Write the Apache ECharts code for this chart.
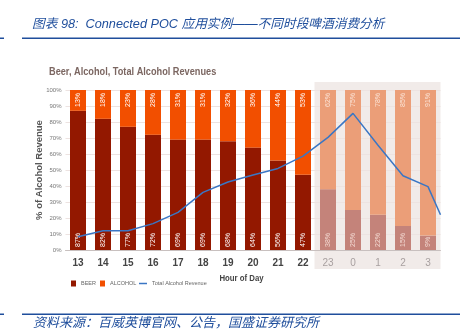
<!DOCTYPE html>
<html><head><meta charset="utf-8">
<script src="https://cdn.jsdelivr.net/npm/echarts@6/dist/echarts.min.js"></script>
<style>html,body{margin:0;padding:0;background:#fff}#c{width:467px;height:331px}</style>
</head><body><div id="c"></div>
<script>
const hours = ['13','14','15','16','17','18','19','20','21','22','23','0','1','2','3'];
const beer = [87, 82, 77, 72, 69, 69, 68, 64, 56, 47, 38, 25, 22, 15, 9];
const alcohol = [13, 18, 23, 28, 31, 31, 32, 36, 44, 53, 62, 75, 78, 85, 91];
const total = [8.3, 12, 12, 16.5, 23.5, 36, 42.5, 46.9, 51, 58.7, 70.4, 85.4, 65.5, 46.4, 39.6];
const totalEdge = 22;
const fadedFrom = 10;

const BEER = '#931800', ALC = '#f24f00', BEER_F = '#c4837a', ALC_F = '#eb9e78';
const LINE = '#3a76c4';
const blue = '#1f4e9c';

const chart = echarts.init(document.getElementById('c'));
const lineData = total.map((v, i) => [i + 0.5, v]);
lineData.push([hours.length, totalEdge]);

const catData = hours.map((h, i) => i >= fadedFrom
  ? { value: h, textStyle: { color: '#a8a0a0', fontWeight: 'normal' } }
  : { value: h });

const legendText = { fontSize: 5.5, color: '#666', fontFamily: 'Liberation Sans' };

chart.setOption({
  animation: false,
  grid: { left: 65.5, right: 26.5, top: 90, bottom: 81 },
  legend: [{
    left: 71, top: 280.5, padding: 0, itemWidth: 5, itemHeight: 6, textStyle: legendText,
    data: [{ name: 'BEER', icon: 'rect' }]
  }, {
    left: 100, top: 280.5, padding: 0, itemWidth: 5, itemHeight: 6, textStyle: legendText,
    data: [{ name: 'ALCOHOL', icon: 'rect' }]
  }, {
    left: 139, top: 280.5, padding: 0, itemWidth: 8, itemHeight: 1.5, textStyle: legendText,
    data: [{ name: 'Total Alcohol Revenue', icon: 'rect' }]
  }],
  xAxis: [{
    type: 'category', data: catData,
    axisLine: { lineStyle: { color: '#c8c0bf' } },
    axisTick: { show: false },
    axisLabel: { margin: 8, fontSize: 10, fontWeight: 'bold', color: '#444', fontFamily: 'Liberation Sans' }
  }, {
    type: 'value', min: 0, max: hours.length, show: false
  }],
  yAxis: {
    type: 'value', min: 0, max: 100, interval: 10,
    axisLabel: { formatter: '{value}%', fontSize: 6, color: '#777', margin: 4, fontFamily: 'Liberation Sans' },
    splitLine: { lineStyle: { color: '#ede3e1' } },
    axisLine: { show: false }, axisTick: { show: false },
    name: '% of Alcohol Revenue', nameLocation: 'middle', nameGap: 21, nameMoveOverlap: false,
    nameTextStyle: { fontSize: 9.5, fontWeight: 'bold', color: '#555', fontFamily: 'Liberation Sans' }
  },
  series: [{
    name: 'BEER', type: 'bar', stack: 'a', barWidth: 16,
    itemStyle: { color: BEER },
    data: beer.map((v, i) => i >= fadedFrom ? { value: v, itemStyle: { color: BEER_F }, label: { color: '#f3d9d2' } } : v),
    label: { show: true, position: 'insideBottom', rotate: 90, align: 'left', verticalAlign: 'middle',
      distance: 3, formatter: '{c}%', fontSize: 7, color: '#fff', fontFamily: 'Liberation Sans' }
  }, {
    name: 'ALCOHOL', type: 'bar', stack: 'a', barWidth: 16,
    itemStyle: { color: ALC },
    data: alcohol.map((v, i) => i >= fadedFrom ? { value: v, itemStyle: { color: ALC_F }, label: { color: '#fbe3d6' } } : v),
    label: { show: true, position: 'insideTop', rotate: 90, align: 'right', verticalAlign: 'middle',
      distance: 3, formatter: '{c}%', fontSize: 7, color: '#fff', fontFamily: 'Liberation Sans' }
  }, {
    name: 'Total Alcohol Revenue', type: 'line', xAxisIndex: 1, yAxisIndex: 0,
    symbol: 'none', data: lineData, z: 5,
    lineStyle: { color: LINE, width: 1.5 }, itemStyle: { color: LINE }
  }]
});

const x0 = chart.convertToPixel({ xAxisIndex: 1 }, fadedFrom) - 1;
const x1 = chart.convertToPixel({ xAxisIndex: 1 }, hours.length);
chart.setOption({
  graphic: [
    { type: 'rect', z: -10, silent: true, shape: { x: x0, y: 82, width: x1 - x0, height: 187 }, style: { fill: '#f1ebe9' } },
    { type: 'text', x: 32, y: 24, style: { text: '图表 98:  Connected POC 应用实例——不同时段啤酒消费分析', fill: blue, verticalAlign: 'middle', font: 'italic 12.7px "Liberation Sans", "Noto Sans CJK SC"' } },
    { type: 'rect', shape: { x: 22, y: 37.5, width: 438, height: 1.5 }, style: { fill: blue } },
    { type: 'rect', shape: { x: 0, y: 37.5, width: 4, height: 1.5 }, style: { fill: blue } },
    { type: 'text', x: 49, y: 72, scaleX: 0.875, style: { text: 'Beer, Alcohol, Total Alcohol Revenues', fill: '#7b6661', verticalAlign: 'middle', font: 'bold 10.5px "Liberation Sans"' } },
    { type: 'text', x: 241.5, y: 278, scaleX: 0.82, style: { text: 'Hour of Day', fill: '#444', align: 'center', verticalAlign: 'middle', font: 'bold 9.5px "Liberation Sans"' } },
    { type: 'rect', shape: { x: 22, y: 313.5, width: 438, height: 1.5 }, style: { fill: blue } },
    { type: 'rect', shape: { x: 0, y: 313.5, width: 4, height: 1.5 }, style: { fill: blue } },
    { type: 'text', x: 33, y: 322, style: { text: '资料来源：百威英博官网、公告，国盛证券研究所', fill: blue, verticalAlign: 'middle', font: 'italic 13px "Noto Sans CJK SC"' } }
  ]
});
</script></body></html>
